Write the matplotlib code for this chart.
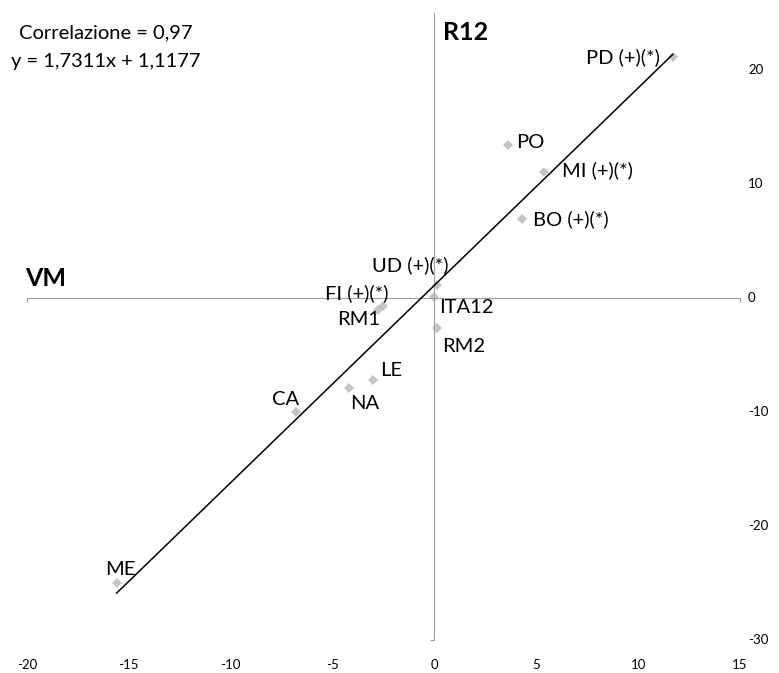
import numpy as np
import matplotlib
matplotlib.use('Agg')
import matplotlib.pyplot as plt

plt.rcParams['font.family'] = ['Lato', 'DejaVu Sans']

# data: VM (x) vs R12 (y)
labels = ['PD (+)(*)', 'PO', 'MI (+)(*)', 'BO (+)(*)', 'UD (+)(*)', 'FI (+)(*)',
          'RM1', 'ITA12', 'RM2', 'LE', 'NA', 'CA', 'ME']
vm = [11.7, 3.6, 5.4, 4.3, 0.15, -2.5, -2.75, 0.0, 0.15, -3.0, -4.2, -6.8, -15.6]
r12 = [21.1, 13.4, 11.05, 6.9, 1.1, -0.7, -1.05, 0.1, -2.6, -7.2, -7.9, -10.0, -25.0]
slope, intercept = 1.7311, 1.1177
xticks = [-20, -15, -10, -5, 0, 5, 10, 15]
yticks = [-30, -20, -10, 0, 10, 20]

# label offsets in pixels (dx, dy, ha)
offsets = {
    'PD (+)(*)': (-13, 0, 'right'),
    'PO': (8, 3, 'left'),
    'MI (+)(*)': (18, 2, 'left'),
    'BO (+)(*)': (11, 0, 'left'),
    'UD (+)(*)': (11, 20, 'right'),
    'FI (+)(*)': (5, 13, 'right'),
    'RM1': (2, -10, 'right'),
    'ITA12': (5, -11, 'left'),
    'RM2': (5, -19, 'left'),
    'LE': (7, 10, 'left'),
    'NA': (16, -15, 'center'),
    'CA': (3, 12, 'right'),
    'ME': (4, 13, 'center'),
}

fig = plt.figure(figsize=(7.79, 6.73), dpi=100)
ax = fig.add_axes([27 / 779, 1 - 640 / 673, 713 / 779, 627 / 673])
ax.set_xlim(-20, 15)
ax.set_ylim(-30, 25)

axis_col = '#A0A0A0'
for s in ['top', 'right']:
    ax.spines[s].set_visible(False)
ax.spines['bottom'].set_position(('data', 0))
ax.spines['left'].set_position(('data', 0))
ax.spines['bottom'].set_color(axis_col)
ax.spines['left'].set_color(axis_col)
ax.set_xticks([-20, 15])
ax.set_yticks([-30])
ax.tick_params(axis='both', length=3, color=axis_col, labelbottom=False, labelleft=False)

# trendline
xl = np.array([min(vm), max(vm)])
ax.plot(xl, slope * xl + intercept, color='black', lw=1.1, zorder=3)

ax.plot(vm, r12, 'D', color='#C4C4C4', markersize=5.5, markeredgewidth=0, zorder=2)

for lab, x, y in zip(labels, vm, r12):
    dx, dy, ha = offsets[lab]
    ax.annotate(lab, (x, y), xytext=(dx, dy), textcoords='offset pixels',
                ha=ha, va='center', fontsize=14.5)

# tick labels at the outside edges
for t in xticks:
    ax.annotate(str(t), (t, -30), xytext=(0, -25), textcoords='offset pixels',
                ha='center', va='center', fontsize=9.5)
for t in yticks:
    ax.annotate(str(t), (15, t), xytext=(8, 0), textcoords='offset pixels',
                ha='left', va='center', fontsize=9.5)

fig.text(106 / 779, 1 - 33 / 673, 'Correlazione = 0,97', ha='center', va='center', fontsize=14.5)
fig.text(106 / 779, 1 - 62 / 673, 'y = 1,7311x + 1,1177', ha='center', va='center', fontsize=14.5)
fig.text(25 / 779, 1 - 278 / 673, 'VM', ha='left', va='center', fontsize=18, fontweight='bold')
fig.text(443 / 779, 1 - 33 / 673, 'R12', ha='left', va='center', fontsize=18, fontweight='bold')

fig.savefig('out.png', dpi=100)
